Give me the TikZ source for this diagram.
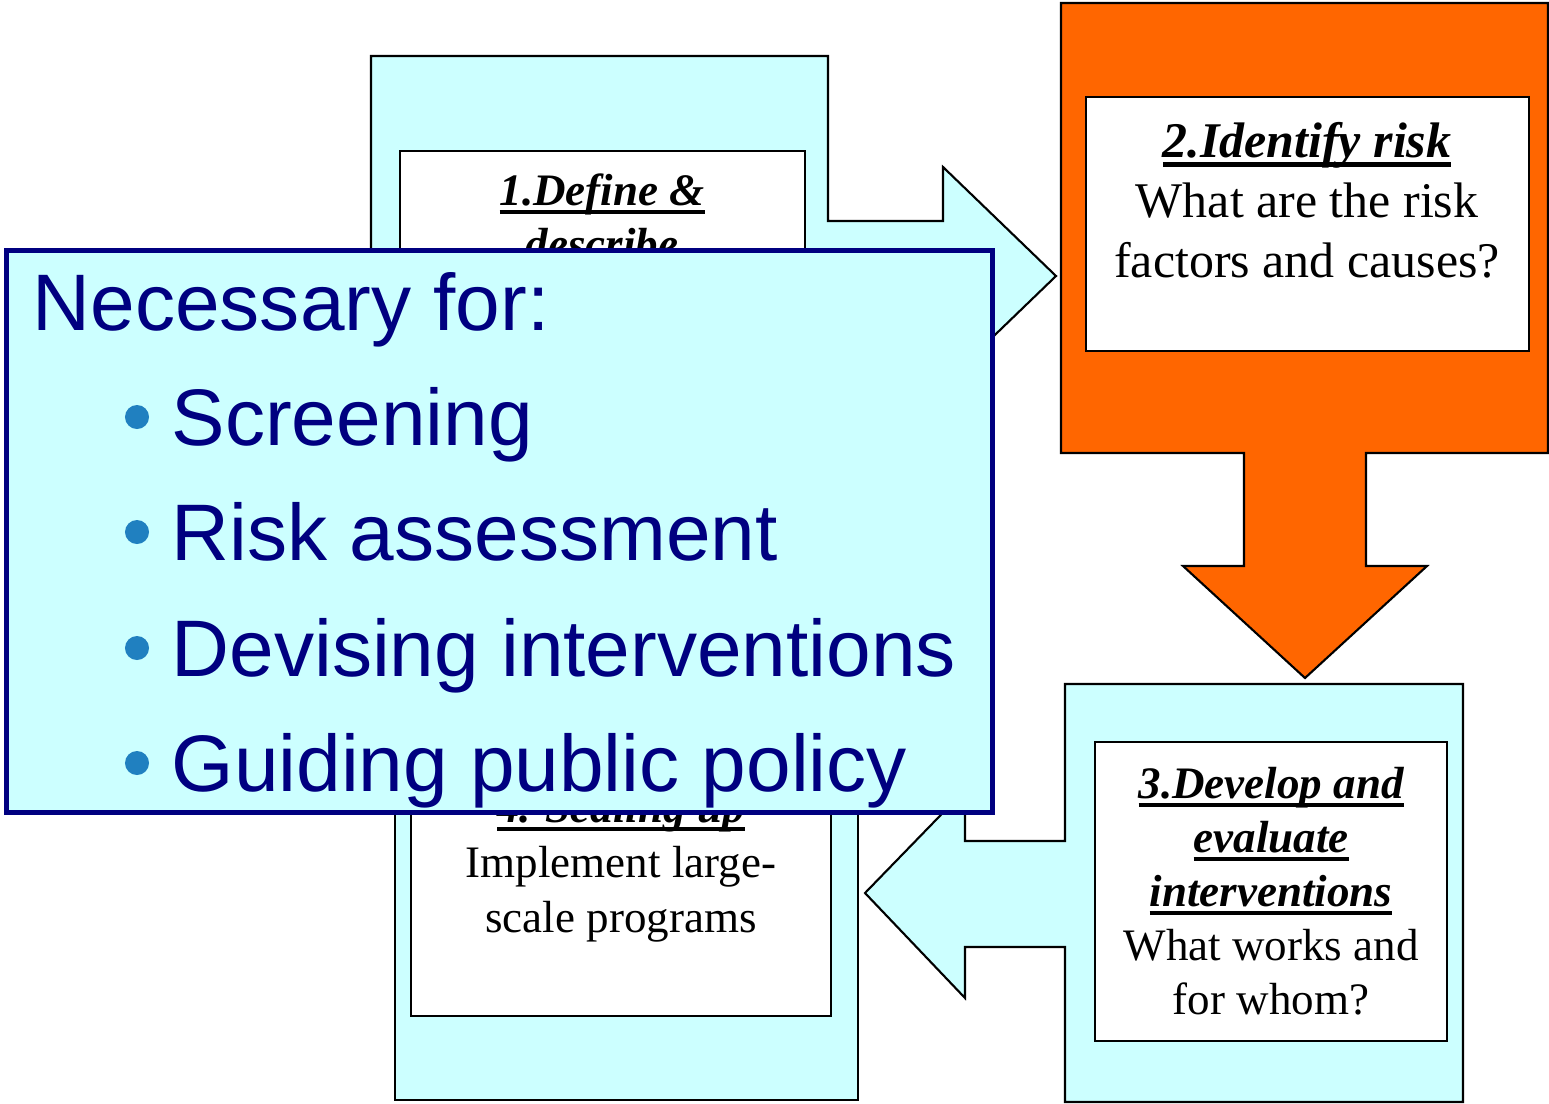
\documentclass[tikz,border=0pt]{standalone}
\usepackage{fontspec}
\setmainfont{Liberation Serif}
\setsansfont{Liberation Sans}
\definecolor{lcyan}{HTML}{CCFFFF}
\definecolor{orng}{HTML}{FF6600}
\definecolor{navy}{HTML}{000080}
\definecolor{bul}{HTML}{2080C0}
\newcommand\ulhead[1]{\setbox0\hbox{\bfseries\itshape #1}\rlap{\rule[-0.2em]{\wd0}{0.09em}}\box0}
\begin{document}
\begin{tikzpicture}[x=0.01cm,y=-0.01cm,
  cyanshape/.style={draw=black,line width=0.6pt,fill=lcyan},
  orangeshape/.style={draw=black,line width=0.6pt,fill=orng},
  innerbox/.style={draw=black,line width=0.7pt,fill=white},
  lbl/.style={anchor=base,inner sep=0pt,font=\fontsize{12.8pt}{15pt}\selectfont},
  lblbig/.style={anchor=base,inner sep=0pt,font=\fontsize{14.2pt}{17pt}\selectfont},
  notebox/.style={draw=navy,line width=1.45pt,fill=lcyan},
  ovtxt/.style={anchor=base west,inner sep=0pt,text=navy,font=\sffamily\fontsize{22.8pt}{27pt}\selectfont},
  dot/.style={circle,fill=bul,inner sep=0pt,minimum size=0.24cm}]
\useasboundingbox (0,0) rectangle (1549,1103);
% box 1
\draw[cyanshape] (371,56) -- (828,56) -- (828,221) -- (943,221) -- (943,167) -- (1056,276) -- (943,385) -- (943,331) -- (828,331) -- (828,520) -- (371,520) -- cycle;
\draw[innerbox] (400,151) rectangle (805,500);
\node[lbl] (h1a) at (602,205) {\ulhead{1.Define \&}};
\node[lbl] (h1b) at (602,259) {\ulhead{describe}};
% box 2
\draw[orangeshape] (1061,3) -- (1548,3) -- (1548,453) -- (1366,453) -- (1366,566) -- (1427,566) -- (1305,678) -- (1183,566) -- (1244,566) -- (1244,453) -- (1061,453) -- cycle;
\draw[innerbox] (1086,97) rectangle (1529,351);
\node[lblbig] (h2) at (1307,157) {\ulhead{2.Identify risk}};
\node[lblbig] (t2a) at (1307,217) {What are the risk};
\node[lblbig] (t2b) at (1307,277) {factors and causes?};
% box 3
\draw[cyanshape] (1065,684) -- (1463,684) -- (1463,1102) -- (1065,1102) -- (1065,947) -- (965,947) -- (965,998) -- (865,893) -- (965,790) -- (965,841) -- (1065,841) -- cycle;
\draw[innerbox] (1095,742) rectangle (1447,1041);
\node[lbl] (h3a) at (1271,798) {\ulhead{3.Develop and}};
\node[lbl] (h3b) at (1271,852) {\ulhead{evaluate}};
\node[lbl] (h3c) at (1271,906) {\ulhead{interventions}};
\node[lbl] (t3a) at (1271,960) {What works and};
\node[lbl] (t3b) at (1271,1014) {for whom?};
% box 4
\draw[cyanshape] (395,560) rectangle (858,1100);
\draw[innerbox] (411,640) rectangle (831,1016);
\node[lbl] (h4) at (621,822) {\ulhead{4. Scaling up}};
\node[lbl] (t4a) at (621,877) {Implement large-};
\node[lbl] (t4b) at (621,932) {scale programs};
% overlay note
\draw[notebox] (6.5,250.5) rectangle (992.5,812.5);
\node[ovtxt] (nf) at (32,330) {Necessary for:};
\node[dot] (d1) at (137,417) {};
\node[ovtxt] (i1) at (171,445) {Screening};
\node[dot] (d2) at (137,532) {};
\node[ovtxt] (i2) at (171,560) {Risk assessment};
\node[dot] (d3) at (137,648) {};
\node[ovtxt] (i3) at (171,676) {Devising interventions};
\node[dot] (d4) at (137,763) {};
\node[ovtxt] (i4) at (171,791) {Guiding public policy};
\end{tikzpicture}
\end{document}
